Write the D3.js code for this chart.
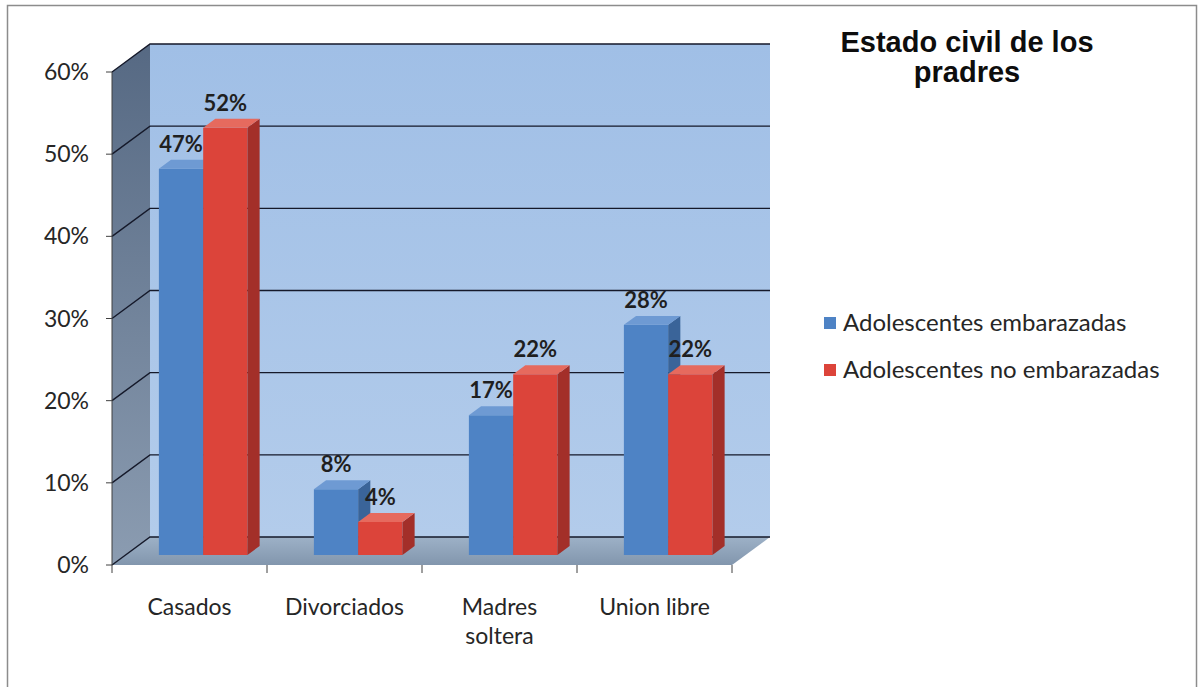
<!DOCTYPE html>
<html>
<head>
<meta charset="utf-8">
<script src="https://cdn.jsdelivr.net/npm/d3@7"></script>
<style>
  html, body { margin: 0; padding: 0; background: #ffffff; }
  svg { display: block; }
</style>
</head>
<body>
<svg id="chart" width="1198" height="687"></svg>
<script>
// Chart data
const categories = ["Casados", "Divorciados", "Madres soltera", "Union libre"];
const categoryLines = [["Casados"], ["Divorciados"], ["Madres", "soltera"], ["Union libre"]];
const seriesNames = ["Adolescentes embarazadas", "Adolescentes no embarazadas"];
const embarazadas = [0.47, 0.08, 0.17, 0.28];
const noEmbarazadas = [0.52, 0.04, 0.22, 0.22];
const yTicks = [0, 0.1, 0.2, 0.3, 0.4, 0.5, 0.6];
const titleLines = ["Estado civil de los", "pradres"];

const seriesValues = [embarazadas, noEmbarazadas];

const svg = d3.select("#chart");

// Pseudo-3D geometry: front plane plus a receding depth offset
const DX = 38, DY = -28;
const proj = (x, y, d) => [x + d * DX, y + d * DY];
const depthFront = 0.36, depthBack = 0.68;

const x = d3.scaleBand().domain(categories).range([112, 732]);
const xs = d3.scaleBand().domain(seriesNames).range([0, x.bandwidth()])
  .paddingInner(0).paddingOuter(0.75);
const y = d3.scaleLinear().domain([0, 0.6]).range([565, 72]);

const colors = {
  front: ["#4e83c5", "#dc443a"],
  side: ["#3a6499", "#a32f29"],
  top: ["#6e9ad3", "#e66a5e"]
};

const defs = svg.append("defs");
const g1 = defs.append("linearGradient").attr("id", "backWall").attr("x1", 0).attr("y1", 0).attr("x2", 0).attr("y2", 1);
g1.append("stop").attr("offset", "0%").attr("stop-color", "#a0bfe6");
g1.append("stop").attr("offset", "100%").attr("stop-color", "#b3cceb");
const g2 = defs.append("linearGradient").attr("id", "sideWall").attr("x1", 0).attr("y1", 0).attr("x2", 0).attr("y2", 1);
g2.append("stop").attr("offset", "0%").attr("stop-color", "#566983");
g2.append("stop").attr("offset", "100%").attr("stop-color", "#8b9cb1");
const g3 = defs.append("linearGradient").attr("id", "floor").attr("x1", 0).attr("y1", 0).attr("x2", 0).attr("y2", 1);
g3.append("stop").attr("offset", "0%").attr("stop-color", "#9db1c7");
g3.append("stop").attr("offset", "100%").attr("stop-color", "#8296ad");

// Outer frame
svg.append("rect").attr("x", 7.5).attr("y", 5.5).attr("width", 1189).attr("height", 700)
  .attr("fill", "#ffffff").attr("stroke", "#8c8c8c").attr("stroke-width", 1.5);

const poly = pts => "M" + pts.map(p => p.join(",")).join("L") + "Z";
const x0 = x.range()[0], x1 = x.range()[1];
const yMin = y(0), yMax = y(0.6);

// Back wall
svg.append("path")
  .attr("d", poly([proj(x0, yMax, 1), proj(x1, yMax, 1), proj(x1, yMin, 1), proj(x0, yMin, 1)]))
  .attr("fill", "url(#backWall)");
// Left side wall
svg.append("path")
  .attr("d", poly([proj(x0, yMax, 0), proj(x0, yMax, 1), proj(x0, yMin, 1), proj(x0, yMin, 0)]))
  .attr("fill", "url(#sideWall)");
// Floor
svg.append("path")
  .attr("d", poly([proj(x0, yMin, 0), proj(x1, yMin, 0), proj(x1, yMin, 1), proj(x0, yMin, 1)]))
  .attr("fill", "url(#floor)");

// Gridlines across the back wall and the left wall
const grid = svg.append("g").attr("stroke", "#15192a").attr("stroke-width", 1.4).attr("fill", "none");
yTicks.forEach(t => {
  const a = proj(x0, y(t), 0), b = proj(x0, y(t), 1), c = proj(x1, y(t), 1);
  grid.append("path").attr("d", `M${a}L${b}L${c}`);
});

// Y axis line and ticks
const axisG = svg.append("g").attr("stroke", "#404040").attr("stroke-width", 1);
axisG.append("line").attr("x1", x0).attr("x2", x0).attr("y1", yMax).attr("y2", yMin);
yTicks.forEach(t => {
  axisG.append("line").attr("x1", x0 - 6).attr("x2", x0).attr("y1", y(t)).attr("y2", y(t));
});
// X axis ticks
const xTickPos = categories.map(c => x(c)).concat([x1]);
xTickPos.forEach(p => {
  axisG.append("line").attr("x1", p).attr("x2", p).attr("y1", yMin).attr("y2", yMin + 8);
});

const fontUI = "Lato, 'Open Sans', 'DejaVu Sans', sans-serif";

// Y tick labels
svg.append("g").selectAll("text").data(yTicks).join("text")
  .attr("x", 89).attr("y", d => y(d)).attr("dy", "0.35em")
  .attr("text-anchor", "end")
  .attr("font-family", fontUI).attr("font-size", 23).attr("fill", "#262626")
  .text(d => d3.format(".0%")(d));

// Bars
const barsG = svg.append("g");
const labelsG = svg.append("g");
categories.forEach((cat, ci) => {
  seriesNames.forEach((s, si) => {
    const v = seriesValues[si][ci];
    const bx0 = x(cat) + xs(s);
    const bx1 = bx0 + xs.bandwidth();
    const yt = y(v), yb = y(0);
    const [ox, oy] = proj(0, 0, depthFront);
    const [bx, by] = proj(0, 0, depthBack);
    // front face
    barsG.append("path")
      .attr("d", poly([[bx0 + ox, yt + oy], [bx1 + ox, yt + oy], [bx1 + ox, yb + oy], [bx0 + ox, yb + oy]]))
      .attr("fill", colors.front[si]);
    // side face
    barsG.append("path")
      .attr("d", poly([[bx1 + ox, yt + oy], [bx1 + bx, yt + by], [bx1 + bx, yb + by], [bx1 + ox, yb + oy]]))
      .attr("fill", colors.side[si]);
    // top face
    barsG.append("path")
      .attr("d", poly([[bx0 + ox, yt + oy], [bx1 + ox, yt + oy], [bx1 + bx, yt + by], [bx0 + bx, yt + by]]))
      .attr("fill", colors.top[si]);
    // value label
    labelsG.append("text")
      .attr("x", (bx0 + bx1) / 2 + ox)
      .attr("y", yt + by - 8)
      .attr("text-anchor", "middle")
      .attr("font-family", fontUI).attr("font-weight", "bold")
      .attr("font-size", 22).attr("fill", "#1f1f1f")
      .text(d3.format(".0%")(v));
  });
});

// Category labels
categoryLines.forEach((lines, ci) => {
  const cx = x(categories[ci]) + x.bandwidth() / 2;
  const t = svg.append("text").attr("text-anchor", "middle")
    .attr("font-family", fontUI).attr("font-size", 23).attr("fill", "#262626");
  lines.forEach((ln, li) => {
    t.append("tspan").attr("x", cx).attr("y", 615 + li * 29).text(ln);
  });
});

// Title
const title = svg.append("text").attr("text-anchor", "middle")
  .attr("font-family", "'Liberation Sans', Arial, sans-serif").attr("font-weight", "bold")
  .attr("font-size", 29).attr("fill", "#0d0d0d");
titleLines.forEach((ln, i) => {
  title.append("tspan").attr("x", 967).attr("y", 52 + i * 30).text(ln);
});

// Legend
const legend = svg.append("g");
seriesNames.forEach((s, i) => {
  const ly = 323 + i * 47;
  legend.append("rect").attr("x", 824).attr("y", ly - 6).attr("width", 12).attr("height", 12)
    .attr("fill", colors.front[i]);
  legend.append("text").attr("x", 843).attr("y", ly).attr("dy", "0.35em")
    .attr("font-family", fontUI).attr("font-size", 24).attr("fill", "#262626")
    .text(s);
});
</script>
</body>
</html>
